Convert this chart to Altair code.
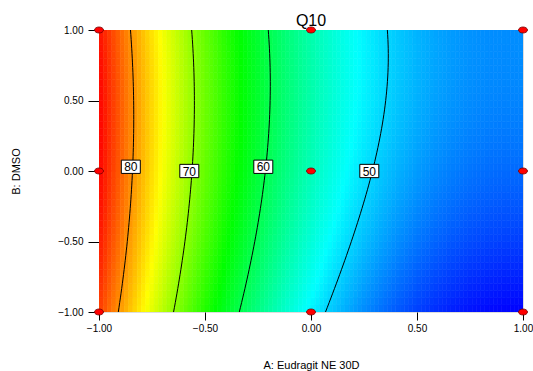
import numpy as np
import pandas as pd
import altair as alt

# Fitted response-surface coefficients (coded units)
B0 = 55.07
B_A = -20.6
B_B = 2.1
B_AB = 1.1
B_AA = 10.7
B_BB = -1.535

CONTOUR_LEVELS = [80, 70, 60, 50]
LABEL_A = [-0.850, -0.574, -0.225, 0.275]
LABEL_B = [0.03, 0.0, 0.03, 0.0]

DESIGN_A = [-1, -1, -1, 0, 0, 0, 1, 1, 1]
DESIGN_B = [-1, 0, 1, -1, 0, 1, -1, 0, 1]

TICKS = [-1.0, -0.5, 0.0, 0.5, 1.0]
COLOR_STOPS = [40.4, 51.9, 63.45, 75.0, 86.5]
COLOR_RANGE = ["#0000ff", "#00ffff", "#00ff00", "#ffff00", "#ff0000"]

FONT = "Liberation Sans"


def response(a, b):
    return B0 + B_A * a + B_B * b + B_AB * a * b + B_AA * a * a + B_BB * b * b


# heat-map grid
NX, NY = 100, 40
xe = np.linspace(-1, 1, NX + 1)
ye = np.linspace(-1, 1, NY + 1)
rows = []
for i in range(NX):
    for j in range(NY):
        ac = (xe[i] + xe[i + 1]) / 2
        bc = (ye[j] + ye[j + 1]) / 2
        rows.append(dict(a0=xe[i], a1=xe[i + 1], b0=ye[j], b1=ye[j + 1], r=response(ac, bc)))
heat_df = pd.DataFrame(rows)

# contour lines
bs = np.linspace(-1, 1, 61)
crow = []
for L in CONTOUR_LEVELS:
    qa = B_AA
    qb = B_A + B_AB * bs
    qc = B0 + B_B * bs + B_BB * bs * bs - L
    aa = (-qb - np.sqrt(qb * qb - 4 * qa * qc)) / (2 * qa)
    for a, b in zip(aa, bs):
        crow.append(dict(a=a, b=b, level=L))
cont_df = pd.DataFrame(crow)

lab_df = pd.DataFrame(dict(a=LABEL_A, b=LABEL_B, txt=[str(v) for v in CONTOUR_LEVELS]))
pts_df = pd.DataFrame(dict(a=DESIGN_A, b=DESIGN_B))

xscale = alt.Scale(domain=[-1, 1], nice=False, zero=False)
yscale = alt.Scale(domain=[-1, 1], nice=False, zero=False)

xaxis = alt.Axis(values=TICKS, format=".2f", title="A: Eudragit NE 30D", grid=False,
                 domain=False, tickSize=8, tickColor="black", labelFlush=False,
                 labelOverlap=False, labelFont=FONT, labelFontSize=10, labelColor="black",
                 labelPadding=3, titleFont=FONT, titleFontSize=11, titleFontWeight="normal",
                 titleColor="black", titleX=212, titleY=53, titleBaseline="middle")
yaxis = alt.Axis(values=TICKS, format=".2f", title="B: DMSO", grid=False,
                 domain=False, tickSize=11, tickColor="black", labelFlush=False,
                 labelOverlap=False, labelFont=FONT, labelFontSize=10, labelColor="black",
                 labelPadding=5, titleFont=FONT, titleFontSize=11, titleFontWeight="normal",
                 titleColor="black", titleX=-83, titleY=141, titleBaseline="middle",
                 titleAngle=-90, titleAlign="center")

cscale = alt.Scale(domain=COLOR_STOPS, range=COLOR_RANGE, interpolate="rgb")

heat = alt.Chart(heat_df).mark_rect(clip=True, strokeWidth=0.6).encode(
    x=alt.X("a0:Q", scale=xscale, axis=xaxis),
    x2="a1:Q",
    y=alt.Y("b0:Q", scale=yscale, axis=yaxis),
    y2="b1:Q",
    color=alt.Color("r:Q", scale=cscale, legend=None),
    stroke=alt.Stroke("r:Q", scale=cscale, legend=None),
)

lines = alt.Chart(cont_df).mark_line(color="black", strokeWidth=1, clip=True).encode(
    x=alt.X("a:Q", scale=xscale),
    y=alt.Y("b:Q", scale=yscale),
    detail="level:N",
    order=alt.Order("b:Q"),
)

BOX = "M-1,-0.7H1V0.7H-1Z"
boxes = alt.Chart(lab_df).mark_point(shape=BOX, size=361, filled=True, fill="white",
                                     stroke="black", strokeWidth=1, opacity=1).encode(
    x=alt.X("a:Q", scale=xscale),
    y=alt.Y("b:Q", scale=yscale),
)
texts = alt.Chart(lab_df).mark_text(font=FONT, fontSize=12, color="black",
                                    align="center", baseline="middle", dy=0.5).encode(
    x=alt.X("a:Q", scale=xscale),
    y=alt.Y("b:Q", scale=yscale),
    text="txt:N",
)

ELL = "M-1,0A1,0.67,0,1,1,1,0A1,0.67,0,1,1,-1,0Z"
pts = alt.Chart(pts_df).mark_point(shape=ELL, size=81, filled=True, fill="#ff0000",
                                   stroke="#700000", strokeWidth=0.8, opacity=1).encode(
    x=alt.X("a:Q", scale=xscale),
    y=alt.Y("b:Q", scale=yscale),
)

chart = alt.layer(heat, lines, boxes, texts, pts).properties(
    width=424, height=282,
    autosize=alt.AutoSizeParams(type="none"),
    padding={"left": 99, "top": 30, "right": 10, "bottom": 59},
    title=alt.TitleParams("Q10", font=FONT, fontSize=16, fontWeight="normal",
                          color="black", anchor="middle", frame="group", offset=0,
                          baseline="alphabetic", dy=17),
).configure_view(stroke="#333333", strokeWidth=1).configure(background="white")

chart.save("out.html", embed_options={"renderer": "svg", "actions": False})
